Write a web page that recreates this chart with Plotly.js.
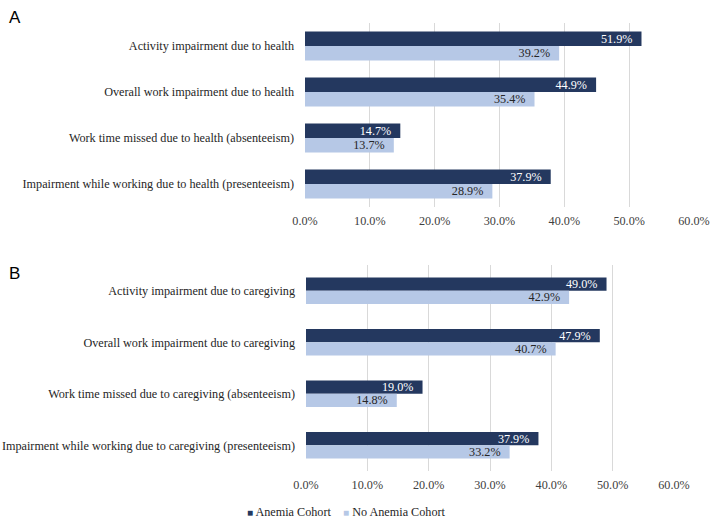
<!DOCTYPE html>
<html>
<head>
<meta charset="utf-8">
<script src="https://cdn.plot.ly/plotly-3.0.1.min.js"></script>
<style>
  html, body { margin: 0; padding: 0; background: #fff; }
  #chart { width: 711px; height: 519px; }
</style>
</head>
<body>
<div id="chart"></div>
<script>
// panel A: due to health
let catsA = [
  'Activity impairment due to health',
  'Overall work impairment due to health',
  'Work time missed due to health (absenteeism)',
  'Impairment while working due to health (presenteeism)'
];
let anemiaA = [51.9, 44.9, 14.7, 37.9];
let noAnemiaA = [39.2, 35.4, 13.7, 28.9];

// panel B: due to caregiving
let catsB = [
  'Activity impairment due to caregiving',
  'Overall work impairment due to caregiving',
  'Work time missed due to caregiving (absenteeism)',
  'Impairment while working due to caregiving (presenteeism)'
];
let anemiaB = [49.0, 47.9, 19.0, 37.9];
let noAnemiaB = [42.9, 40.7, 14.8, 33.2];

let seriesNames = ['Anemia Cohort', 'No Anemia Cohort'];
let xTicks = [0, 10, 20, 30, 40, 50, 60];
let xTickText = ['0.0%', '10.0%', '20.0%', '30.0%', '40.0%', '50.0%', '60.0%'];

const W = 711, H = 519;
const dark = '#24385f';
const light = '#b6c8e6';
const serif = 'Liberation Serif';
const sans = 'Liberation Sans';
const fs = 12.2;

function barTrace(cats, vals, name, color, textColor, xa, ya, w, off) {
  return {
    type: 'bar',
    orientation: 'h',
    x: vals,
    y: cats,
    name: name,
    xaxis: xa,
    yaxis: ya,
    width: w,
    offset: off,
    marker: {color: color, line: {width: 0}},
    texttemplate: '%{x:.1f}%  ',
    textposition: 'inside',
    insidetextanchor: 'end',
    textangle: 0,
    constraintext: 'none',
    textfont: {family: serif, size: fs, color: textColor},
    showlegend: false,
    hoverinfo: 'skip'
  };
}

const wA = 0.315, wB = 0.255;
const traces = [
  barTrace(catsA, anemiaA, seriesNames[0], dark, '#ffffff', 'x', 'y', wA, -wA),
  barTrace(catsA, noAnemiaA, seriesNames[1], light, '#262626', 'x', 'y', wA, 0),
  barTrace(catsB, anemiaB, seriesNames[0], dark, '#ffffff', 'x2', 'y2', wB, -wB),
  barTrace(catsB, noAnemiaB, seriesNames[1], light, '#262626', 'x2', 'y2', wB, 0)
];

function xAxis(d0, d1, anchor, standoff) {
  return {
    domain: [d0 / W, d1 / W],
    anchor: anchor,
    range: [0, 60],
    tickvals: xTicks,
    ticktext: xTickText,
    showgrid: true,
    gridcolor: '#d9d9d9',
    gridwidth: 1,
    zeroline: false,
    showline: false,
    ticks: '',
    ticklabelstandoff: standoff,
    tickfont: {family: serif, size: fs, color: '#404040'},
    fixedrange: true
  };
}

function yAxis(top, bottom, anchor) {
  return {
    domain: [1 - bottom / H, 1 - top / H],
    anchor: anchor,
    autorange: 'reversed',
    showgrid: false,
    zeroline: false,
    showline: false,
    ticks: '',
    ticklabelstandoff: 10,
    tickfont: {family: serif, size: fs, color: '#262626'},
    fixedrange: true
  };
}

// compact legend, Excel style: small square then label
const legendText =
  '<span style="color:' + dark + ';font-size:10px">■</span> ' + seriesNames[0] +
  '    <span style="color:' + light + ';font-size:10px">■</span> ' + seriesNames[1];

const layout = {
  width: W,
  height: H,
  margin: {l: 0, r: 0, t: 0, b: 0},
  paper_bgcolor: '#ffffff',
  plot_bgcolor: '#ffffff',
  barmode: 'overlay',
  xaxis: xAxis(305, 694, 'y', 5),
  yaxis: yAxis(23, 207, 'x'),
  xaxis2: xAxis(306, 674, 'y2', 5),
  yaxis2: yAxis(265, 471, 'x2'),
  showlegend: false,
  annotations: [
    {text: 'A', xref: 'paper', yref: 'paper', x: 7 / W, y: 1 - 6 / H,
     xanchor: 'left', yanchor: 'top', showarrow: false,
     font: {family: sans, size: 17, color: '#000'}},
    {text: 'B', xref: 'paper', yref: 'paper', x: 7 / W, y: 1 - 262 / H,
     xanchor: 'left', yanchor: 'top', showarrow: false,
     font: {family: sans, size: 17, color: '#000'}},
    {text: legendText, xref: 'paper', yref: 'paper', x: 245 / W, y: 1 - 512 / H,
     xanchor: 'left', yanchor: 'middle', showarrow: false,
     font: {family: serif, size: fs, color: '#262626'}}
  ]
};

Plotly.newPlot('chart', traces, layout, {displayModeBar: false, staticPlot: true});
</script>
</body>
</html>
